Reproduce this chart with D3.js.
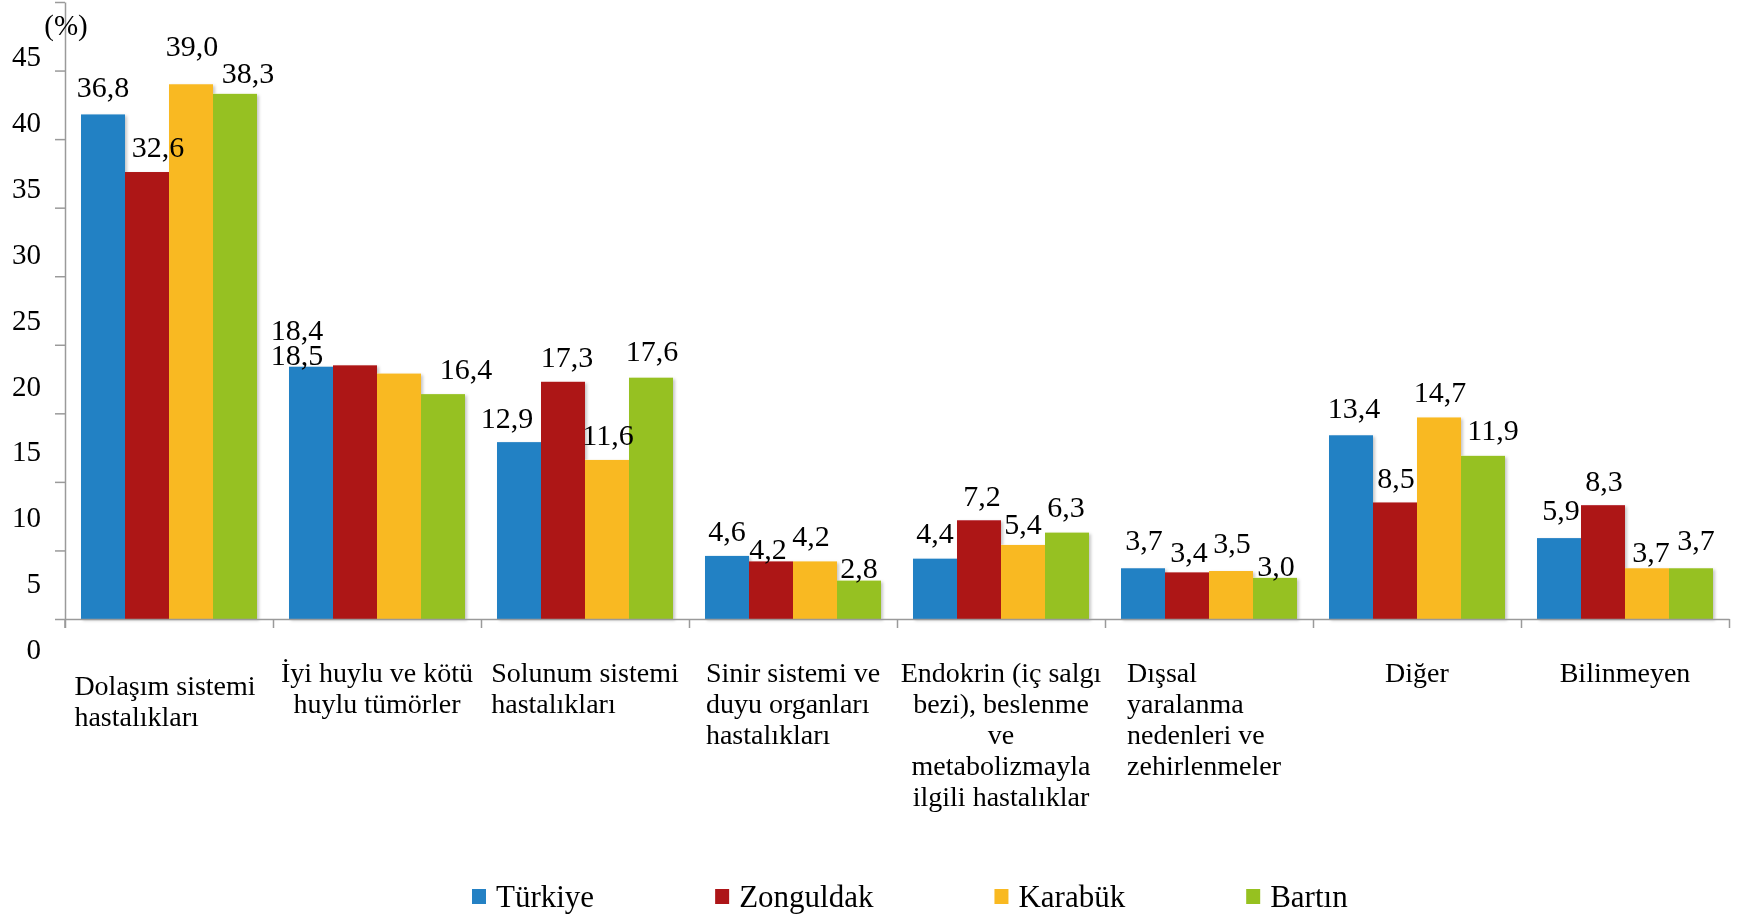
<!DOCTYPE html>
<html lang="tr">
<head>
<meta charset="utf-8">
<title>Ölüm nedenleri</title>
<script src="https://cdn.jsdelivr.net/npm/d3@7"></script>
<style>
  body { margin: 0; background: #fff; }
  svg { display: block; font-family: "Liberation Serif", "DejaVu Serif", serif; }
  .axis path, .axis line { stroke: #9a9a9a; stroke-width: 1.5; }
</style>
</head>
<body>
<div id="chart"></div>
<script>
// Categories (line breaks as in the original)
const categories = [
    'Dolaşım sistemi\nhastalıkları',
    'İyi huylu ve kötü\nhuylu tümörler',
    'Solunum sistemi\nhastalıkları',
    'Sinir sistemi ve\nduyu organları\nhastalıkları',
    'Endokrin (iç salgı\nbezi), beslenme\nve\nmetabolizmayla\nilgili hastalıklar',
    'Dışsal\nyaralanma\nnedenleri ve\nzehirlenmeler',
    'Diğer',
    'Bilinmeyen'
];
const series = ['Türkiye', 'Zonguldak', 'Karabük', 'Bartın'];

// Values (%)
const turkiye   = [36.8, 18.4, 12.9, 4.6, 4.4, 3.7, 13.4, 5.9];
const zonguldak = [32.6, 18.5, 17.3, 4.2, 7.2, 3.4, 8.5, 8.3];
const karabuk   = [39.0, 17.9, 11.6, 4.2, 5.4, 3.5, 14.7, 3.7];
const bartin    = [38.3, 16.4, 17.6, 2.8, 6.3, 3.0, 11.9, 3.7];

const yTicks = [0, 5, 10, 15, 20, 25, 30, 35, 40, 45];

// Chart config
const cfg = {
    width: 1742, height: 914,
    left: 65, right: 1729, top: 2, base: 619,
    colors: ['#2481c4', '#ad1518', '#f9b921', '#96c120'],
    labelGap: 26,
    // how the category text block is aligned under its group
    catAlign: ['block', 'middle', 'block', 'block', 'middle', 'block', 'middle', 'middle'],
    catShift: [[-4, 13], [0, 0], [0, 0], [0, 0], [0, 0], [-5, 0], [0, 0], [0, 0]],
    // label nudges [dx, dy] per series and category (null = label not shown)
    labelNudge: [
        [[0, -2], [-14, -11], [-12, 1], [0, 1], [0, 0], [1, -3], [3, -2], [2, -3]],
        [[11, 0], [-58, 15], [4, 1], [-3, 13], [3, 1], [2, 5], [1, 1], [1, 1]],
        [[1, -13], null, [1, 1], [-4, 0], [0, 5], [1, -3], [1, 0], [4, 9]],
        [[13, 5], [23, 0], [1, -1], [0, 13], [-1, 0], [1, 14], [10, 0], [5, -3]]
    ]
};

const seriesValues = [turkiye, zonguldak, karabuk, bartin];

const svg = d3.select('#chart').append('svg')
    .attr('width', cfg.width)
    .attr('height', cfg.height);

// Soft bar shadow
svg.append('defs').append('filter')
    .attr('id', 'shadow')
    .attr('x', '-10%').attr('y', '-10%').attr('width', '130%').attr('height', '130%')
    .append('feDropShadow')
    .attr('dx', 2).attr('dy', 1.5).attr('stdDeviation', 1.6)
    .attr('flood-color', '#000').attr('flood-opacity', 0.22);

// Scales
const x0 = d3.scaleBand()
    .domain(categories)
    .range([cfg.left, cfg.right])
    .paddingInner(2 / 13)
    .paddingOuter(1 / 13);

const x1 = d3.scaleBand()
    .domain(series)
    .range([0, x0.bandwidth()]);

const y = d3.scaleLinear()
    .domain([0, 45])
    .range([cfg.base, cfg.top]);

// tick labels sit on their own (shifted) scale, as in the source picture
const yLabel = d3.scaleLinear()
    .domain([0, 45])
    .range([649, 56]);

const xEdge = d3.scaleLinear()
    .domain([0, categories.length])
    .range([cfg.left, cfg.right]);

// Bars
const barg = svg.append('g').attr('filter', 'url(#shadow)');
categories.forEach((cat, i) => {
    barg.append('g')
        .attr('transform', `translate(${x0(cat)},0)`)
        .selectAll('rect')
        .data(series)
        .enter().append('rect')
        .attr('x', s => x1(s))
        .attr('y', (s, j) => y(seriesValues[j][i]))
        .attr('width', x1.bandwidth())
        .attr('height', (s, j) => cfg.base - y(seriesValues[j][i]))
        .attr('fill', (s, j) => cfg.colors[j]);
});

// Left axis (ticks only)
svg.append('g')
    .attr('class', 'axis')
    .attr('transform', `translate(${cfg.left},0)`)
    .call(d3.axisLeft(y).tickValues(yTicks).tickSize(10).tickSizeOuter(0).tickFormat(''));

// y axis continues a little below the base line
svg.append('line')
    .attr('x1', cfg.left).attr('x2', cfg.left)
    .attr('y1', cfg.base).attr('y2', cfg.base + 9)
    .attr('stroke', '#9a9a9a').attr('stroke-width', 1.5);

// Bottom axis with category separators
svg.append('g')
    .attr('class', 'axis')
    .attr('transform', `translate(0,${cfg.base})`)
    .call(d3.axisBottom(xEdge).tickValues(d3.range(categories.length + 1)).tickSize(9).tickSizeOuter(0).tickFormat(''));

// Y tick labels
svg.append('g')
    .selectAll('text')
    .data(yTicks)
    .enter().append('text')
    .attr('x', 41)
    .attr('y', d => yLabel(d))
    .attr('dy', '0.35em')
    .attr('text-anchor', 'end')
    .style('font-size', '29px')
    .text(d => d);

// Unit title
svg.append('text')
    .attr('x', 66).attr('y', 25).attr('dy', '0.35em')
    .attr('text-anchor', 'middle')
    .style('font-size', '29px')
    .text('(%)');

// Value labels
const fmt = v => d3.format('.1f')(v).replace('.', ',');
const lblg = svg.append('g').style('font-size', '30px');
categories.forEach((cat, i) => {
    series.forEach((s, j) => {
        const n = cfg.labelNudge[j][i];
        if (!n) return;
        const v = seriesValues[j][i];
        lblg.append('text')
            .attr('x', x0(cat) + x1(s) + x1.bandwidth() / 2 + n[0])
            .attr('y', y(v) - cfg.labelGap + n[1])
            .attr('dy', '0.35em')
            .attr('text-anchor', 'middle')
            .text(fmt(v));
    });
});

// Category labels
const catg = svg.append('g').style('font-size', '28px');
categories.forEach((cat, i) => {
    const sh = cfg.catShift[i];
    const cx = x0(cat) + x0.bandwidth() / 2 + sh[0];
    const lines = cat.split('\n');
    const t = catg.append('g');
    const texts = lines.map((ln, k) => t.append('text')
        .attr('y', 672 + sh[1] + k * 31)
        .attr('dy', '0.35em')
        .text(ln));
    if (cfg.catAlign[i] === 'middle') {
        texts.forEach(tx => tx.attr('x', cx).attr('text-anchor', 'middle'));
    } else {
        const w = d3.max(texts, tx => tx.node().getComputedTextLength());
        texts.forEach(tx => tx.attr('x', cx - w / 2));
    }
});

// Legend
const leg = svg.append('g').style('font-size', '31px');
let lx = 472;
series.forEach((s, j) => {
    leg.append('rect')
        .attr('x', lx).attr('y', 889)
        .attr('width', 14).attr('height', 15)
        .attr('fill', cfg.colors[j]);
    const tx = leg.append('text')
        .attr('x', lx + 24).attr('y', 896.5)
        .attr('dy', '0.35em')
        .text(s);
    lx += 24 + tx.node().getComputedTextLength() + 121;
});
</script>
</body>
</html>
